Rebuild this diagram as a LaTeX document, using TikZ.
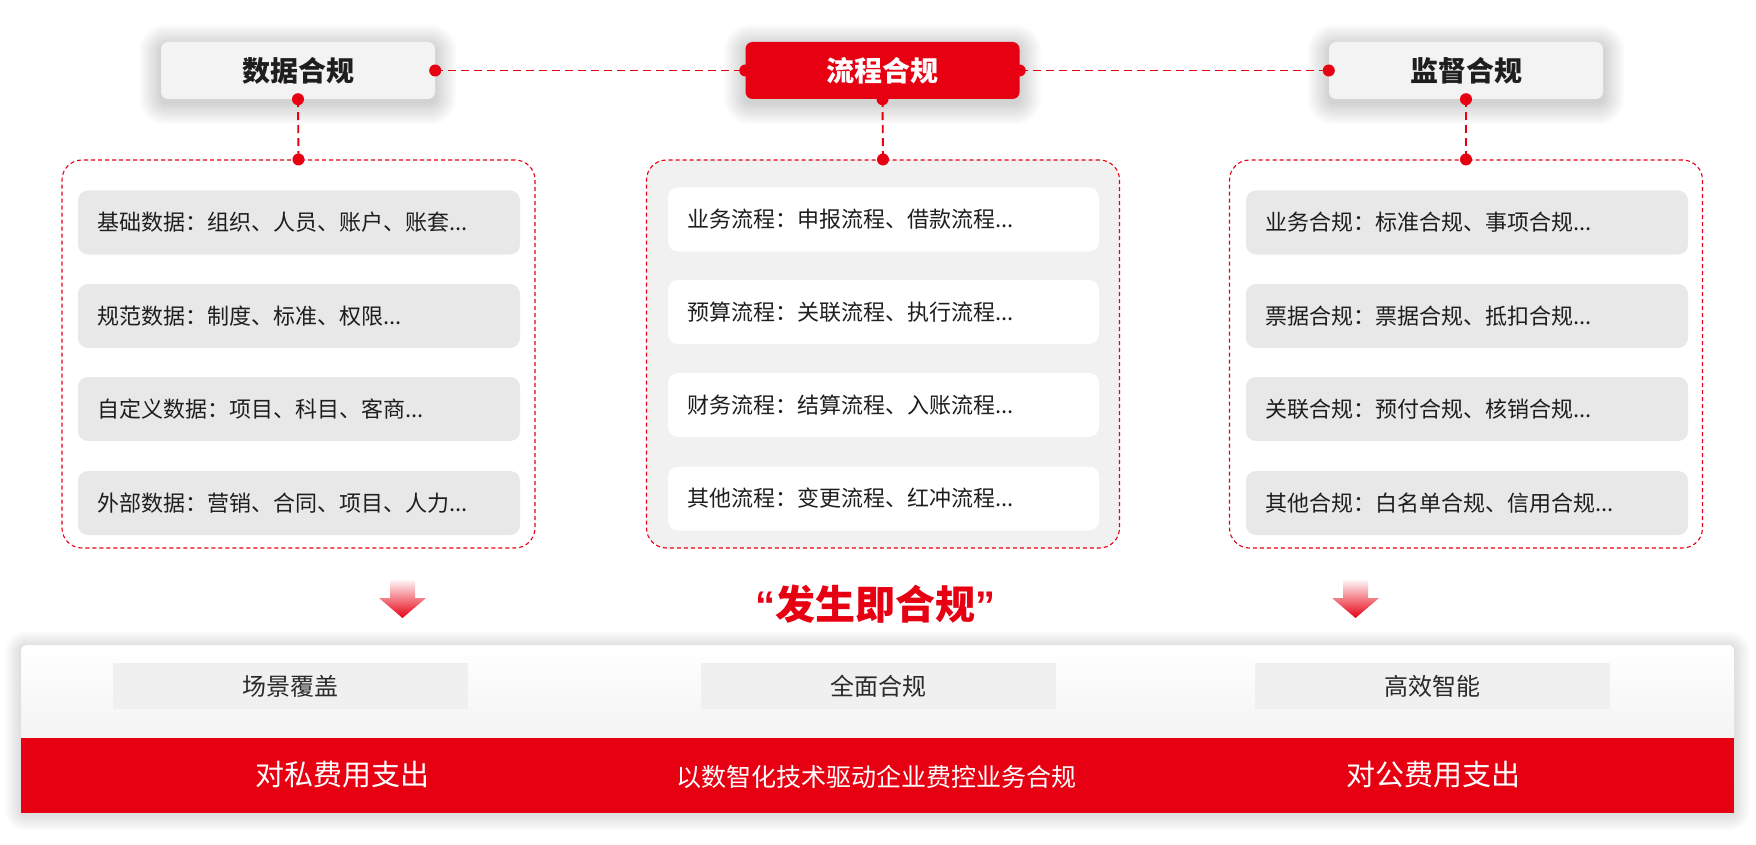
\documentclass[tikz,border=0pt]{standalone}
\usepackage{fontspec}
\setmainfont{Noto Sans CJK SC}
\newfontfamily\latf{Liberation Sans}
\definecolor{myred}{HTML}{E60012}
\definecolor{itemgray}{HTML}{E8E8E8}
\definecolor{panelgray}{HTML}{F1F1F1}
\definecolor{titlegray}{HTML}{F3F3F3}
\definecolor{boxgray}{HTML}{F0F0F0}
\definecolor{textdark}{HTML}{1E1E1E}
\definecolor{textmid}{HTML}{2A2A2A}
\pgfdeclarelayer{bglayer}
\pgfdeclarelayer{shadowlayer}
\pgfsetlayers{bglayer,shadowlayer,main}
\newcommand{\softshadow}[4]{% node, yshift, steps, opacity
  \foreach \i in {1,...,#3}{
    \fill[black, opacity=#4, rounded corners=\i pt+6pt]
      ([xshift=-\i pt, yshift=-#2pt+\i pt]#1.north west) rectangle ([xshift=\i pt, yshift=-#2pt-\i pt]#1.south east);
  }}
\begin{document}
\begin{tikzpicture}[x=1pt,y=-1pt,
  title/.style={rounded corners=7pt, minimum width=274pt, minimum height=57pt, inner sep=0pt,
    font=\fontsize{28}{32}\selectfont\bfseries, text=textdark},
  panelbox/.style={draw=myred, line width=1.1pt, dash pattern=on 4pt off 3pt, rounded corners=20pt,
    minimum width=473pt, minimum height=388pt, inner sep=0pt},
  itembox/.style={rounded corners=10pt, minimum height=64pt, inner xsep=19pt, inner ysep=0pt,
    align=left, font=\fontsize{22}{25}\selectfont, text=textdark},
  sidebox/.style={itembox, fill=itemgray, text width=404pt},
  midbox/.style={itembox, fill=white, text width=393pt},
  conn/.style={myred, line width=1.9pt, dash pattern=on 8pt off 5pt},
  dotmark/.style={circle, fill=myred, minimum size=12pt, inner sep=0pt},
  subbox/.style={fill=boxgray, minimum width=355pt, minimum height=46pt, inner sep=0pt,
    font=\fontsize{24}{28}\selectfont, text=textmid},
  barlabel/.style={text=white, inner sep=0pt}
]
\useasboundingbox (0,0) rectangle (1756,845);
\begin{pgfonlayer}{bglayer}
\fill[white] (0,0) rectangle (1756,845);
\end{pgfonlayer}

% ---- title boxes
\node[title, fill=titlegray] (t1) at (298,70.5) {数据合规};
\node[title, fill=myred, text=white] (t2) at (882.5,70.5) {流程合规};
\node[title, fill=titlegray] (t3) at (1466,70.5) {监督合规};
\begin{pgfonlayer}{shadowlayer}
\softshadow{t1}{4}{22}{0.009}
\softshadow{t2}{4}{22}{0.009}
\softshadow{t3}{4}{22}{0.009}
\end{pgfonlayer}

% ---- panels
\node[panelbox, fill=white] (p1) at (298.5,354) {};
\node[panelbox, fill=panelgray] (p2) at (883,354) {};
\node[panelbox, fill=white] (p3) at (1466,354) {};

% ---- left items
\node[sidebox] (a1) at (299,222.5) {基础数据：组织、人员、账户、账套...};
\node[sidebox] (a2) at (299,316) {规范数据：制度、标准、权限...};
\node[sidebox] (a3) at (299,409) {自定义数据：项目、科目、客商...};
\node[sidebox] (a4) at (299,503) {外部数据：营销、合同、项目、人力...};

% ---- middle items
\node[midbox] (m1) at (883.5,219.5) {业务流程：申报流程、借款流程...};
\node[midbox] (m2) at (883.5,312) {预算流程：关联流程、执行流程...};
\node[midbox] (m3) at (883.5,405) {财务流程：结算流程、入账流程...};
\node[midbox] (m4) at (883.5,498.5) {其他流程：变更流程、红冲流程...};

% ---- right items
\node[sidebox] (c1) at (1467,222.5) {业务合规：标准合规、事项合规...};
\node[sidebox] (c2) at (1467,316) {票据合规：票据合规、抵扣合规...};
\node[sidebox] (c3) at (1467,409) {关联合规：预付合规、核销合规...};
\node[sidebox] (c4) at (1467,503) {其他合规：白名单合规、信用合规...};

% ---- connectors
\draw[conn] (t1.east) -- (t2.west);
\draw[conn] (t2.east) -- (t3.west);
\draw[conn] (t1.south) -- (p1.north);
\draw[conn] (t2.south) -- (p2.north);
\draw[conn] (t3.south) -- (p3.north);

% ---- dots
\node[dotmark] (d1) at (t1.east) {};
\node[dotmark] (d2) at (t1.south) {};
\node[dotmark] (d3) at (p1.north) {};
\node[dotmark] (d4) at (t2.west) {};
\node[dotmark] (d5) at (t2.east) {};
\node[dotmark] (d6) at (t2.south) {};
\node[dotmark] (d7) at (p2.north) {};
\node[dotmark] (d8) at (t3.west) {};
\node[dotmark] (d9) at (t3.south) {};
\node[dotmark] (d10) at (p3.north) {};

% ---- down arrows
\shade[top color=myred!4, bottom color=myred]
  (390,580) -- (415,580) -- (415,598) -- (426,598) -- (402.5,618) -- (379,598) -- (390,598) -- cycle;
\shade[top color=myred!4, bottom color=myred]
  (1343,580) -- (1368,580) -- (1368,598) -- (1379,598) -- (1355.5,618) -- (1332,598) -- (1343,598) -- cycle;

% ---- slogan
\node[font=\fontsize{40}{44}\selectfont\bfseries, text=myred, inner sep=0pt] (q) at (875.5,604)
  {{\latf\bfseries “}发生即合规{\latf\bfseries ”}};

% ---- bottom panel
\node[top color=white, bottom color=black!8, rounded corners=6pt, minimum width=1713pt,
  minimum height=168pt, inner sep=0pt] (bp) at (877.5,729) {};
\begin{pgfonlayer}{shadowlayer}
\softshadow{bp}{2}{16}{0.006}
\end{pgfonlayer}
\node[fill=myred, minimum width=1713pt, minimum height=75pt, inner sep=0pt] (rb) at (877.5,775.5) {};

\node[subbox] (b1) at (290.5,686) {场景覆盖};
\node[subbox] (b2) at (878.5,686) {全面合规};
\node[subbox] (b3) at (1432,686) {高效智能};

\node[barlabel, font=\fontsize{29}{32}\selectfont] (r1) at (342,775) {对私费用支出};
\node[barlabel, font=\fontsize{25}{28}\selectfont] (r2) at (876,776.5) {以数智化技术驱动企业费控业务合规};
\node[barlabel, font=\fontsize{29}{32}\selectfont] (r3) at (1433,775) {对公费用支出};
\end{tikzpicture}
\end{document}
